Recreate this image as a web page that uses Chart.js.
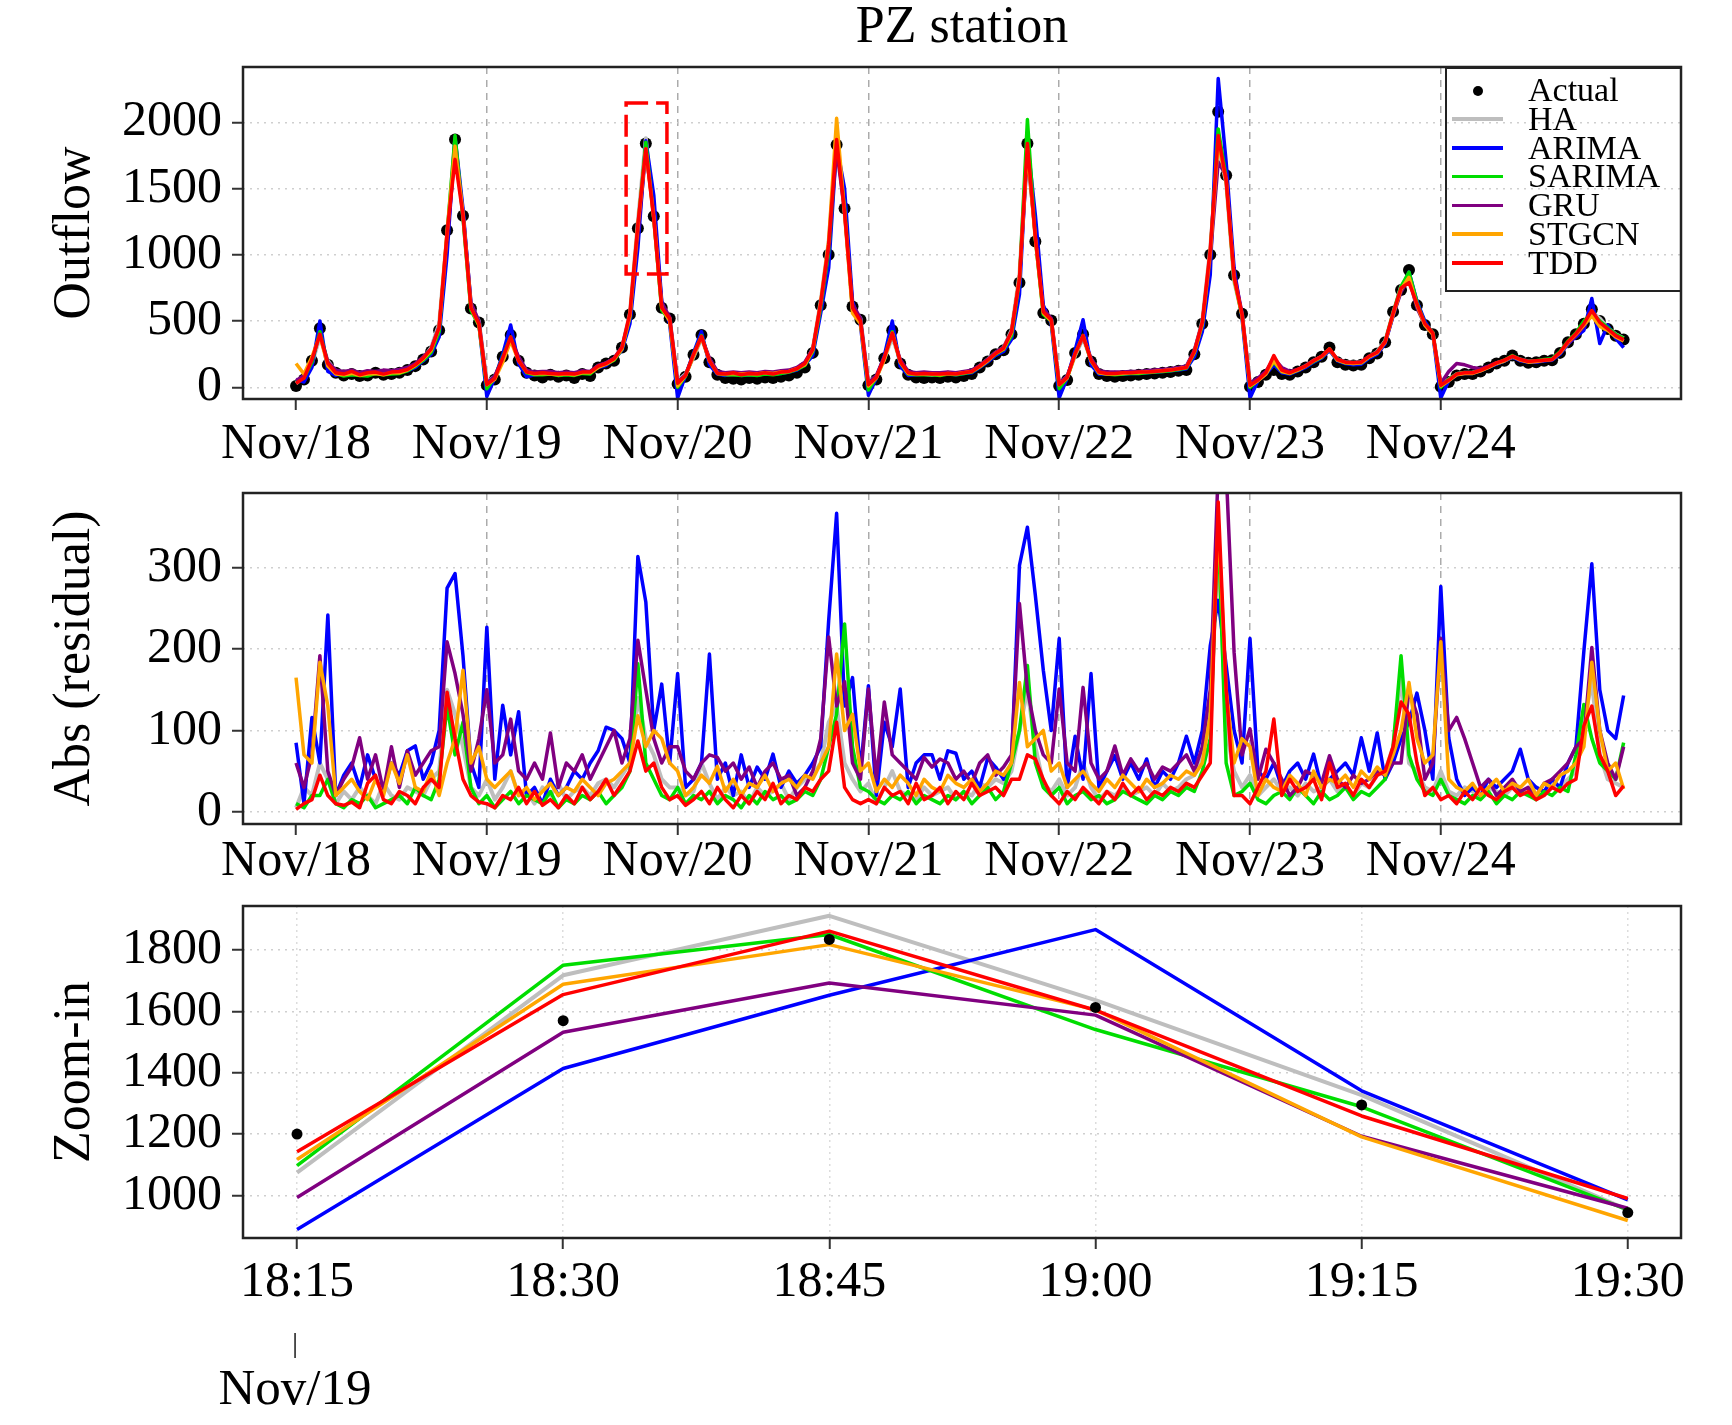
<!DOCTYPE html>
<html>
<head>
<meta charset="utf-8">
<script src="https://cdn.jsdelivr.net/npm/chart.js@4.4.1/dist/chart.umd.min.js"></script>
<style>
html, body { margin: 0; padding: 0; background: #fff; }
#wrap { position: relative; width: 1732px; height: 1425px; font-family: "Liberation Serif", serif; }
canvas { position: absolute; left: 0; }
#legend { position: absolute; left: 1445px; top: 67px; width: 237px; height: 225px; border: 2px solid #222; box-sizing: border-box; }
.row { position: absolute; left: 0; width: 100%; height: 28.75px; }
.sym { position: absolute; left: 5px; width: 51px; top: 12.6px; height: 3.5px; }
.dot { position: absolute; left: 26px; top: 9.4px; width: 10px; height: 10px; border-radius: 50%; background: #000; }
.lab { position: absolute; left: 81px; top: 0; font-size: 34px; line-height: 28.75px; white-space: nowrap; color: #000; }
</style>
</head>
<body>
<div id="wrap">
  <canvas id="c1" width="1732" height="480" style="top:0px"></canvas>
  <canvas id="c2" width="1732" height="410" style="top:480px"></canvas>
  <canvas id="c3" width="1732" height="535" style="top:890px"></canvas>
  <div id="legend"></div>
</div>
<script>
// --- axis labels ---
const PER_DAY = 24;
const DAY_LABELS = ['Nov/18', 'Nov/19', 'Nov/20', 'Nov/21', 'Nov/22', 'Nov/23', 'Nov/24'];
const OUTFLOW_TICKS = [0, 500, 1000, 1500, 2000];
const RESID_TICKS = [0, 100, 200, 300];
const ZOOM_TICKS = [1000, 1200, 1400, 1600, 1800];
const ZOOM_TIMES = ['18:15', '18:30', '18:45', '19:00', '19:15', '19:30'];
const ZOOM_DATE = 'Nov/19';

// --- outflow, one row per day ---
const ACTUAL = [
  [10,60,200,445,170,110,90,100,85,90,110,95,100,110,130,160,210,270,430,1185,1870,1295,595,490],
  [15,60,230,395,200,110,90,75,95,80,90,70,100,85,150,180,200,300,550,1200,1840,1290,600,520],
  [25,80,245,395,190,95,70,65,60,70,65,75,70,80,90,110,150,260,620,1000,1830,1350,610,510],
  [15,60,220,430,180,95,75,70,75,70,80,75,85,100,150,195,250,280,400,790,1840,1100,560,505],
  [10,55,260,400,195,100,85,80,85,90,95,100,105,110,115,125,130,250,480,1000,2080,1600,845,555],
  [5,40,95,130,100,95,120,150,190,230,300,190,170,165,170,220,255,340,570,735,885,620,470,400],
  [5,40,90,100,100,120,150,180,200,240,200,185,190,200,205,260,340,400,480,590,500,440,390,360]
];
const HA = [
  [30,80,180,380,200,120,100,110,100,105,115,110,115,120,140,170,220,300,480,1150,1860,1300,620,500],
  [40,80,210,360,220,120,100,110,105,100,105,100,115,115,160,180,215,300,560,1250,1880,1300,620,520],
  [50,100,230,370,210,110,95,100,95,100,95,105,100,110,120,140,180,290,650,1100,1880,1330,600,520],
  [40,80,215,380,200,110,100,100,95,100,100,100,110,120,160,210,260,300,430,850,1850,1150,580,510],
  [30,80,240,370,210,120,105,100,105,110,110,115,120,125,130,140,150,270,500,1050,1800,1550,800,550],
  [20,60,110,180,130,110,130,160,200,230,280,210,190,185,190,230,270,350,560,760,850,640,480,410],
  [20,60,100,110,110,130,155,180,200,230,210,195,195,205,210,260,330,400,470,570,520,450,400,370]
];
const ARIMA = [
  [60,40,150,500,120,90,110,95,105,100,120,100,110,115,125,150,200,250,380,1000,1890,1350,620,480],
  [-70,70,250,470,180,80,95,100,110,90,100,95,110,105,150,165,210,280,480,1050,1860,1450,650,480],
  [-80,90,260,420,170,100,90,105,90,95,100,100,105,105,115,130,170,240,560,900,1830,1500,650,470],
  [-60,70,240,500,160,90,95,100,100,95,105,95,105,110,150,190,240,270,360,700,1860,1300,620,480],
  [-80,70,280,510,170,100,100,105,100,105,105,110,115,120,125,130,140,230,420,850,2330,1700,900,520],
  [-80,50,100,170,110,100,125,150,190,220,280,200,180,170,175,220,250,330,540,740,870,650,500,400],
  [-80,50,95,105,105,125,150,175,200,230,200,190,190,200,205,250,330,380,430,670,330,470,370,300]
];
const SARIMA = [
  [40,70,190,420,180,105,85,95,90,85,105,95,100,105,125,160,205,265,420,1150,1900,1280,580,470],
  [-10,75,230,380,210,110,95,95,100,90,95,90,105,100,155,175,205,290,530,1200,1850,1280,580,510],
  [0,85,250,390,200,105,95,95,90,95,90,100,95,105,115,135,165,270,600,1020,1850,1360,590,500],
  [-20,75,225,420,190,100,95,95,95,90,100,95,105,115,155,200,250,285,390,800,2020,1120,550,500],
  [-10,70,255,390,200,110,100,95,100,105,105,110,115,120,125,135,145,260,470,1000,1950,1580,820,540],
  [0,55,110,190,120,105,130,160,195,225,290,205,185,180,185,230,265,345,560,760,870,640,480,410],
  [0,60,100,110,110,130,155,185,205,240,210,195,200,210,215,270,350,410,500,560,500,450,400,370]
];
const GRU = [
  [50,90,210,400,190,130,120,130,110,125,120,130,125,135,150,180,230,290,460,1100,1800,1320,640,500],
  [30,85,220,370,230,130,115,120,120,110,115,110,125,120,165,185,220,305,540,1150,1780,1320,640,530],
  [40,95,240,380,220,120,110,115,110,115,110,120,115,125,130,150,190,290,620,1050,1800,1330,630,520],
  [30,90,230,400,210,120,110,115,110,110,115,110,120,130,165,210,265,300,420,820,1760,1150,590,520],
  [30,85,250,380,220,125,115,115,115,120,120,125,130,135,140,150,160,280,490,980,1700,1600,860,560],
  [30,70,120,220,150,120,135,165,205,230,285,210,190,185,190,235,265,340,540,720,820,600,470,400],
  [30,120,180,170,150,140,160,185,200,235,210,195,195,205,210,260,330,390,460,550,480,440,390,350]
];
const STGCN = [
  [180,100,230,390,160,100,95,105,90,100,105,95,110,110,130,165,215,280,450,1170,1820,1310,600,470],
  [20,60,190,350,200,115,100,105,100,95,100,95,110,110,150,175,210,290,540,1220,1800,1280,600,500],
  [10,90,235,380,200,105,100,105,100,105,100,110,105,115,120,140,170,280,640,1100,2030,1320,560,480],
  [10,70,210,410,190,105,100,100,100,95,105,100,110,120,155,200,255,290,410,830,1800,1120,560,500],
  [20,70,245,390,200,110,100,100,105,110,110,115,120,125,130,140,150,265,480,1020,1850,1560,820,540],
  [10,50,100,200,120,105,130,160,200,230,290,205,185,180,185,230,260,340,550,740,830,620,470,400],
  [10,50,95,105,105,125,150,180,200,235,205,190,195,205,210,260,340,400,470,540,460,430,380,350]
];
const TDD = [
  [30,70,210,400,180,110,100,120,95,110,115,100,115,120,135,170,220,290,450,1170,1720,1300,600,480],
  [20,70,220,380,200,115,105,110,105,100,105,100,115,115,160,180,215,300,560,1230,1800,1270,600,520],
  [30,90,250,385,200,105,100,110,95,105,100,110,100,115,120,140,180,285,640,1080,1870,1320,600,500],
  [20,75,225,410,195,110,100,105,100,100,105,100,110,120,160,205,255,295,420,820,1840,1130,570,510],
  [20,75,255,390,205,115,105,105,110,110,115,115,120,125,130,140,150,270,490,1040,1900,1560,830,550],
  [15,55,110,240,130,110,135,160,200,235,290,210,190,185,190,235,265,345,560,750,790,630,480,410],
  [15,55,100,110,110,130,155,185,205,235,210,195,200,205,210,265,345,405,480,580,490,440,390,360]
];

// --- absolute residuals, one row per day ---
const HA_RES = [
  [5,30,20,60,40,10,25,15,30,20,10,35,20,15,30,25,20,40,50,150,120,80,30,20],
  [40,15,30,50,20,25,10,30,20,35,15,25,30,20,35,40,30,45,60,140,90,70,40,30],
  [30,20,25,60,35,15,30,20,25,10,30,20,25,35,15,30,40,45,60,110,130,60,40,25],
  [35,10,30,50,25,20,15,30,20,25,30,15,25,20,35,30,40,35,50,100,150,80,35,25],
  [40,20,30,60,30,15,25,20,30,20,25,30,20,35,25,30,40,45,70,120,330,100,50,30],
  [45,20,30,40,25,30,20,35,25,30,40,25,30,20,35,30,45,50,80,167,60,50,30,25],
  [50,25,20,30,25,20,30,25,20,30,25,20,30,25,35,30,40,50,110,160,70,40,35,30]
];
const ARIMA_RES = [
  [85,10,116,60,242,20,45,60,30,70,40,25,60,45,75,81,40,60,100,275,293,192,60,30],
  [227,40,131,70,123,20,30,10,40,20,30,50,40,60,75,104,100,90,60,314,258,100,157,60],
  [170,30,40,60,194,40,60,20,70,30,55,40,71,30,50,35,45,60,80,235,367,130,165,50],
  [155,20,110,80,151,30,60,70,70,40,75,72,40,50,30,66,55,40,60,303,350,266,174,100],
  [213,30,93,40,170,30,50,69,40,60,40,65,30,50,40,60,93,60,100,204,260,180,100,60],
  [213,50,40,60,30,50,60,40,71,30,40,50,60,45,91,50,97,40,60,90,110,146,100,40],
  [277,91,40,20,30,20,40,30,40,50,77,40,30,25,40,30,60,80,198,305,150,100,90,143]
];
const SARIMA_RES = [
  [10,5,20,20,40,10,5,15,10,20,5,10,15,20,10,30,20,15,40,130,70,110,30,10],
  [20,5,15,25,10,20,15,10,25,5,15,10,20,15,25,10,20,30,50,182,60,40,20,15],
  [30,10,20,15,25,10,20,15,5,20,10,25,15,20,10,15,25,20,40,80,120,231,80,30],
  [25,15,10,20,15,25,10,20,15,10,20,15,25,10,20,30,15,25,60,100,180,60,30,20],
  [30,10,20,25,15,20,10,15,25,20,15,10,20,15,25,20,30,25,50,90,355,60,20,25],
  [35,15,10,20,25,15,30,20,10,25,15,20,30,15,25,20,30,40,80,192,70,40,25,20],
  [40,20,15,10,20,15,25,10,20,15,25,20,15,25,20,30,25,70,132,90,60,50,40,85]
];
const GRU_RES = [
  [60,30,70,192,50,20,40,55,91,40,70,25,80,30,75,45,60,75,80,209,170,120,50,90],
  [150,60,70,114,50,40,60,40,97,30,60,50,70,40,60,80,100,60,90,211,150,90,60,80],
  [80,50,40,60,70,67,50,60,40,55,30,50,60,40,45,20,30,50,90,215,130,160,60,40],
  [151,40,135,70,60,50,40,67,55,65,60,40,50,35,60,70,45,55,70,256,150,100,70,60],
  [151,60,50,153,60,40,50,81,45,65,50,60,40,55,50,60,70,50,80,150,420,420,196,70],
  [102,40,77,60,40,20,30,50,45,35,69,40,30,45,35,40,50,45,60,60,150,120,40,60],
  [213,100,116,90,60,30,40,20,30,40,25,30,20,35,40,50,60,80,90,202,100,60,40,80]
];
const STGCN_RES = [
  [165,70,60,184,130,20,30,40,25,15,40,20,60,35,70,30,25,50,20,60,90,174,60,80],
  [40,30,40,50,20,30,15,25,35,20,30,25,40,30,20,35,40,50,60,118,80,100,90,60],
  [50,20,30,45,35,56,25,40,20,35,30,45,25,35,40,30,45,40,60,80,194,100,120,50],
  [60,25,40,30,45,35,20,40,30,25,45,35,30,40,25,35,50,45,60,159,80,90,100,50],
  [60,30,40,50,35,25,40,30,45,35,25,40,30,35,45,40,50,45,60,118,357,150,60,90],
  [80,20,40,30,25,45,35,20,50,30,40,35,45,30,50,40,55,45,70,100,159,90,60,70],
  [209,40,30,25,35,20,30,40,25,35,30,40,20,35,30,45,50,60,80,184,100,50,60,28]
];
const TDD_RES = [
  [3,10,15,45,20,10,8,12,5,35,45,15,10,25,20,10,30,40,30,147,90,40,20,12],
  [10,5,20,15,30,10,25,8,15,5,20,10,30,15,25,40,20,35,50,87,50,60,30,15],
  [20,8,15,25,10,30,15,5,20,10,25,15,35,10,20,15,30,25,40,50,110,30,15,10],
  [15,10,30,20,25,10,35,15,20,30,10,25,15,35,20,25,30,20,40,40,70,65,40,20],
  [10,25,15,30,20,10,25,15,35,20,30,15,25,20,30,25,35,30,45,60,381,150,20,20],
  [10,30,50,114,20,40,25,30,40,15,60,30,35,20,40,30,45,50,80,135,120,60,20,30],
  [15,20,10,25,15,30,20,15,25,30,20,25,15,20,30,25,35,40,106,130,70,50,20,32]
];

// --- zoom-in on Nov/19 evening peak ---
const Z_ACTUAL = [1200, 1570, 1835, 1613, 1295, 944];
const Z_HA     = [1074, 1718, 1912, 1637, 1327, 953];
const Z_ARIMA  = [889, 1414, 1653, 1867, 1341, 985];
const Z_SARIMA = [1097, 1751, 1851, 1541, 1289, 953];
const Z_GRU    = [993, 1532, 1693, 1588, 1193, 958];
const Z_STGCN  = [1117, 1689, 1818, 1605, 1191, 918];
const Z_TDD    = [1142, 1655, 1862, 1604, 1259, 990];

// region of the top panel that the zoom-in shows (data units)
const ZOOM_BOX = { x0: 1.73, x1: 1.944, y0: 855, y1: 2146 };

const NAMES = ['HA', 'ARIMA', 'SARIMA', 'GRU', 'STGCN', 'TDD'];
const COLORS = ['#bebebe', '#0000ff', '#00dd00', '#800080', '#ffa500', '#ff0000'];
const TOP = [HA, ARIMA, SARIMA, GRU, STGCN, TDD];
const RES = [HA_RES, ARIMA_RES, SARIMA_RES, GRU_RES, STGCN_RES, TDD_RES];
const ZMS = [Z_HA, Z_ARIMA, Z_SARIMA, Z_GRU, Z_STGCN, Z_TDD];

Chart.defaults.font.family = '"Liberation Serif", serif';
Chart.defaults.color = '#000';

const TICK_FONT = { size: 50, lineHeight: 1 };
const TITLE_FONT = { size: 52, lineHeight: 1, weight: 'normal' };
const LINE_W = 3.5;

// day rows -> {x, y} with x in days
const dayPts = rows => rows.flatMap((row, d) => row.map((v, j) => ({ x: d + j / PER_DAY, y: v })));
const stepPts = arr => arr.map((v, i) => ({ x: i, y: v }));

function lineSet(label, color, data, order, width) {
  return { label, data, borderColor: color, backgroundColor: color, borderWidth: width || LINE_W,
           pointRadius: 0, borderJoinStyle: 'round', fill: false, tension: 0, order };
}
function dotSet(data, r, order) {
  return { label: 'Actual', data, showLine: false, pointRadius: r, pointBackgroundColor: '#000',
           pointBorderColor: '#000', pointBorderWidth: 0, order };
}

const framePlugin = {
  id: 'frame',
  afterDraw(chart) {
    const { ctx, chartArea: a } = chart;
    ctx.save();
    ctx.strokeStyle = '#222';
    ctx.lineWidth = 2.5;
    ctx.strokeRect(a.left, a.top, a.right - a.left, a.bottom - a.top);
    ctx.restore();
  }
};

const boxPlugin = {
  id: 'zoomBox',
  afterDatasetsDraw(chart) {
    const { ctx, scales: { x, y } } = chart;
    const l = x.getPixelForValue(ZOOM_BOX.x0), r = x.getPixelForValue(ZOOM_BOX.x1);
    const t = y.getPixelForValue(ZOOM_BOX.y1), b = y.getPixelForValue(ZOOM_BOX.y0);
    ctx.save();
    ctx.strokeStyle = '#ff0000';
    ctx.lineWidth = 3.5;
    ctx.setLineDash([22, 8]);
    ctx.strokeRect(l, t, r - l, b - t);
    ctx.restore();
  }
};

const datePlugin = {
  id: 'dateNote',
  afterDraw(chart) {
    const { ctx } = chart;
    const x0 = chart.scales.x.getPixelForValue(0);
    ctx.save();
    ctx.fillStyle = '#000';
    ctx.textAlign = 'center';
    ctx.textBaseline = 'middle';
    ctx.font = '28px "Liberation Serif"';
    ctx.fillText('|', x0 - 2, 455);
    ctx.font = '51px "Liberation Serif"';
    ctx.fillText(ZOOM_DATE, x0 - 2, 501);
    ctx.restore();
  }
};

function xAxis(o) {
  return {
    type: 'linear', min: o.min, max: o.max,
    afterBuildTicks: s => { s.ticks = o.labels.map((_, i) => ({ value: i })); },
    afterFit: s => { s.height = o.height; s.paddingLeft = 0; s.paddingRight = 0; },
    ticks: { callback: v => o.labels[v], font: TICK_FONT, color: '#000', padding: o.pad,
             maxRotation: 0, minRotation: 0, autoSkip: false },
    grid: { color: o.gridColor, lineWidth: 1.5, tickLength: 11, tickColor: '#333', tickWidth: 2 },
    border: { display: false, dash: o.dash }
  };
}

function yAxis(min, max, ticks, title) {
  return {
    type: 'linear', min, max,
    afterBuildTicks: s => { s.ticks = ticks.map(v => ({ value: v })); },
    // fixed width; no extra room for half labels at the ends
    afterFit: s => { s.width = 243; s.paddingTop = 0; s.paddingBottom = 0; },
    ticks: { callback: v => String(v), font: TICK_FONT, color: '#000', padding: 10 },
    grid: { color: '#cfcfcf', lineWidth: 1.5, tickLength: 11, tickColor: '#333', tickWidth: 2 },
    border: { display: false, dash: [2, 5] },
    title: { display: true, text: title, font: TITLE_FONT, color: '#000', padding: { top: 49, bottom: 0 } }
  };
}

function makeChart(id, datasets, padTop, x, y, plugins, title) {
  return new Chart(document.getElementById(id), {
    type: 'line',
    data: { datasets },
    plugins: [framePlugin].concat(plugins),
    options: {
      responsive: false, animation: false, events: [], devicePixelRatio: 1,
      layout: { padding: { left: 0, right: 51, top: padTop, bottom: 0 } },
      plugins: { legend: { display: false }, tooltip: { enabled: false }, title: title || { display: false } },
      scales: { x, y }
    }
  });
}

const dayGrid = c => (c.tick && c.tick.value === 0) ? 'rgba(0,0,0,0)' : '#ababab';

// top panel: outflow
makeChart('c1',
  [dotSet(dayPts(ACTUAL), 6, 10)].concat(NAMES.map((n, k) => lineSet(n, COLORS[k], dayPts(TOP[k]), 5 - k, k === 0 ? 4 : LINE_W))),
  0,
  xAxis({ min: -0.278, max: 7.259, labels: DAY_LABELS, height: 81, pad: 10, gridColor: dayGrid, dash: [7, 6] }),
  yAxis(-88, 2417, OUTFLOW_TICKS, 'Outflow'),
  [boxPlugin],
  { display: true, text: 'PZ station', fullSize: false, font: TITLE_FONT, color: '#000', padding: { top: 2, bottom: 13 } }
);

// middle panel: absolute residuals
makeChart('c2',
  NAMES.map((n, k) => lineSet(n, COLORS[k], dayPts(RES[k]), 5 - k, k === 0 ? 4 : LINE_W)),
  13,
  xAxis({ min: -0.278, max: 7.259, labels: DAY_LABELS, height: 66, pad: 2, gridColor: dayGrid, dash: [7, 6] }),
  yAxis(-15, 392, RESID_TICKS, 'Abs (residual)'),
  []
);

// bottom panel: zoom-in
makeChart('c3',
  [dotSet(stepPts(Z_ACTUAL), 5.5, -1)].concat(NAMES.map((n, k) => lineSet(n, COLORS[k], stepPts(ZMS[k]), 5 - k, k === 0 ? 4 : LINE_W))),
  16,
  xAxis({ min: -0.203, max: 5.2, labels: ZOOM_TIMES, height: 187, pad: 9, gridColor: '#dcdcdc', dash: [2, 4] }),
  yAxis(861, 1944, ZOOM_TICKS, 'Zoom-in'),
  [datePlugin]
);

// legend
const legend = document.getElementById('legend');
['Actual'].concat(NAMES).forEach((name, k) => {
  const row = document.createElement('div');
  row.className = 'row';
  row.style.top = (7.125 + 28.75 * k) + 'px';
  const sym = document.createElement('div');
  if (k === 0) {
    sym.className = 'dot';
  } else {
    sym.className = 'sym';
    sym.style.background = COLORS[k - 1];
    if (k === 1) { sym.style.height = '4px'; sym.style.top = '12.4px'; }
  }
  const lab = document.createElement('div');
  lab.className = 'lab';
  lab.textContent = name;
  row.appendChild(sym);
  row.appendChild(lab);
  legend.appendChild(row);
});
</script>
</body>
</html>
